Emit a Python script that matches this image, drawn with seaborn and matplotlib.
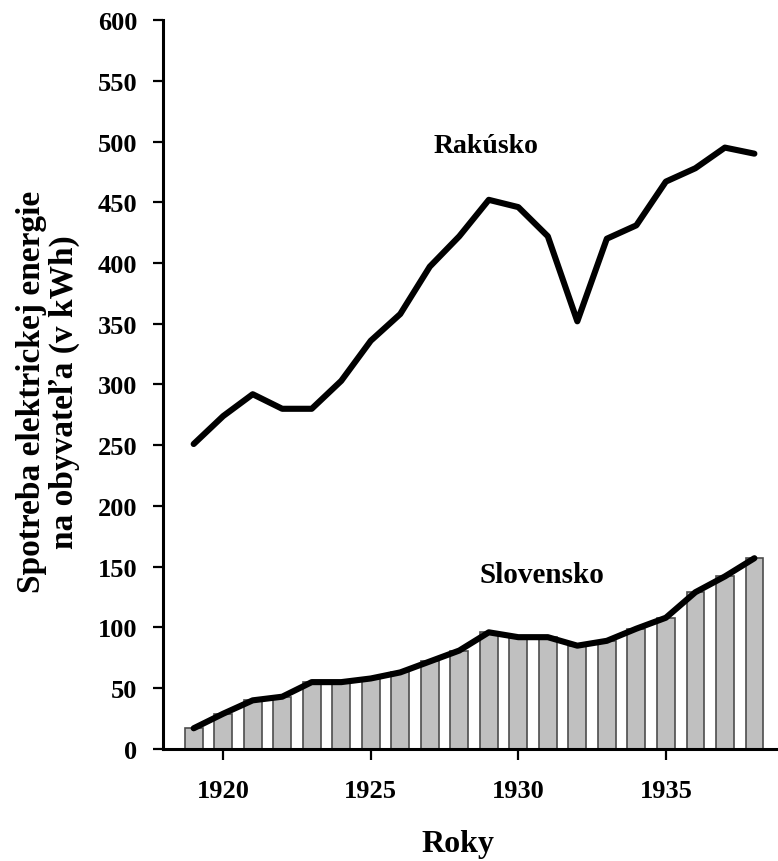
import matplotlib
matplotlib.use("Agg")
import matplotlib.pyplot as plt
import seaborn as sns
import pandas as pd

# Electricity consumption per inhabitant (kWh), 1919-1938
years = list(range(1919, 1939))
rakusko = [251, 274, 292, 280, 280, 303, 336, 358, 397, 422,
           452, 446, 422, 352, 420, 431, 467, 478, 495, 490]
slovensko = [17, 29, 40, 43, 55, 55, 58, 63, 72, 81,
             96, 92, 92, 85, 89, 99, 108, 129, 142, 157]
x_ticks = [1920, 1925, 1930, 1935]
y_ticks = list(range(0, 601, 50))

df = pd.DataFrame({"rok": years, "Rakúsko": rakusko, "Slovensko": slovensko})

sns.set_theme(style="white")
plt.rcParams["font.family"] = ["Liberation Serif", "DejaVu Serif"]
plt.rcParams["font.weight"] = "bold"
for key in ("text.color", "axes.labelcolor", "xtick.color", "ytick.color",
            "axes.edgecolor"):
    plt.rcParams[key] = "black"

fig = plt.figure(figsize=(7.78, 8.62), dpi=100)
ax = fig.add_axes([0.2095, 0.13, 0.7905, 0.8456])

sns.barplot(data=df, x="rok", y="Slovensko", native_scale=True, width=0.6,
            color="#c0c0c0", saturation=1, edgecolor="#4d4d4d", linewidth=1.2,
            errorbar=None, ax=ax, zorder=2)
sns.lineplot(data=df, x="rok", y="Slovensko", color="black", linewidth=4.4,
             ax=ax, zorder=3)
sns.lineplot(data=df, x="rok", y="Rakúsko", color="black", linewidth=4.4,
             ax=ax, zorder=3)

ax.set_xlim(1917.96, 1938.8)
ax.set_ylim(0, 600)
ax.set_xticks(x_ticks)
ax.set_xticklabels([str(t) for t in x_ticks])
ax.set_yticks(y_ticks)
ax.set_yticklabels([str(t) for t in y_ticks])

for side in ("top", "right"):
    ax.spines[side].set_visible(False)
for side in ("left", "bottom"):
    ax.spines[side].set_linewidth(2.2)
    ax.spines[side].set_color("black")

ax.tick_params(axis="y", direction="out", length=7.5, width=1.6, color="black",
               labelcolor="black", labelsize=19, pad=11, left=True)
ax.tick_params(axis="x", direction="out", length=8, width=1.6, color="black",
               labelcolor="black", labelsize=19, pad=14, bottom=True)
for lab in ax.get_xticklabels() + ax.get_yticklabels():
    lab.set_fontweight("bold")

ax.set_xlabel("")
ax.set_ylabel("")

ax.text(1928.9, 497, "Rakúsko", ha="center", va="center", fontsize=20,
        fontweight="bold", color="black")
ax.text(1930.8, 144, "Slovensko", ha="center", va="center", fontsize=21,
        fontweight="bold", color="black")

fig.text(0.5884, 1 - 845 / 862, "Roky", ha="center", va="center",
         fontsize=23, fontweight="bold", color="black")
fig.text(48 / 778, 1 - 392 / 862,
         "Spotreba elektrickej energie\nna obyvateľa (v kWh)",
         rotation=90, ha="center", va="center", fontsize=24,
         fontweight="bold", linespacing=1.08, multialignment="center",
         color="black")

fig.savefig("out.png", dpi=100)
